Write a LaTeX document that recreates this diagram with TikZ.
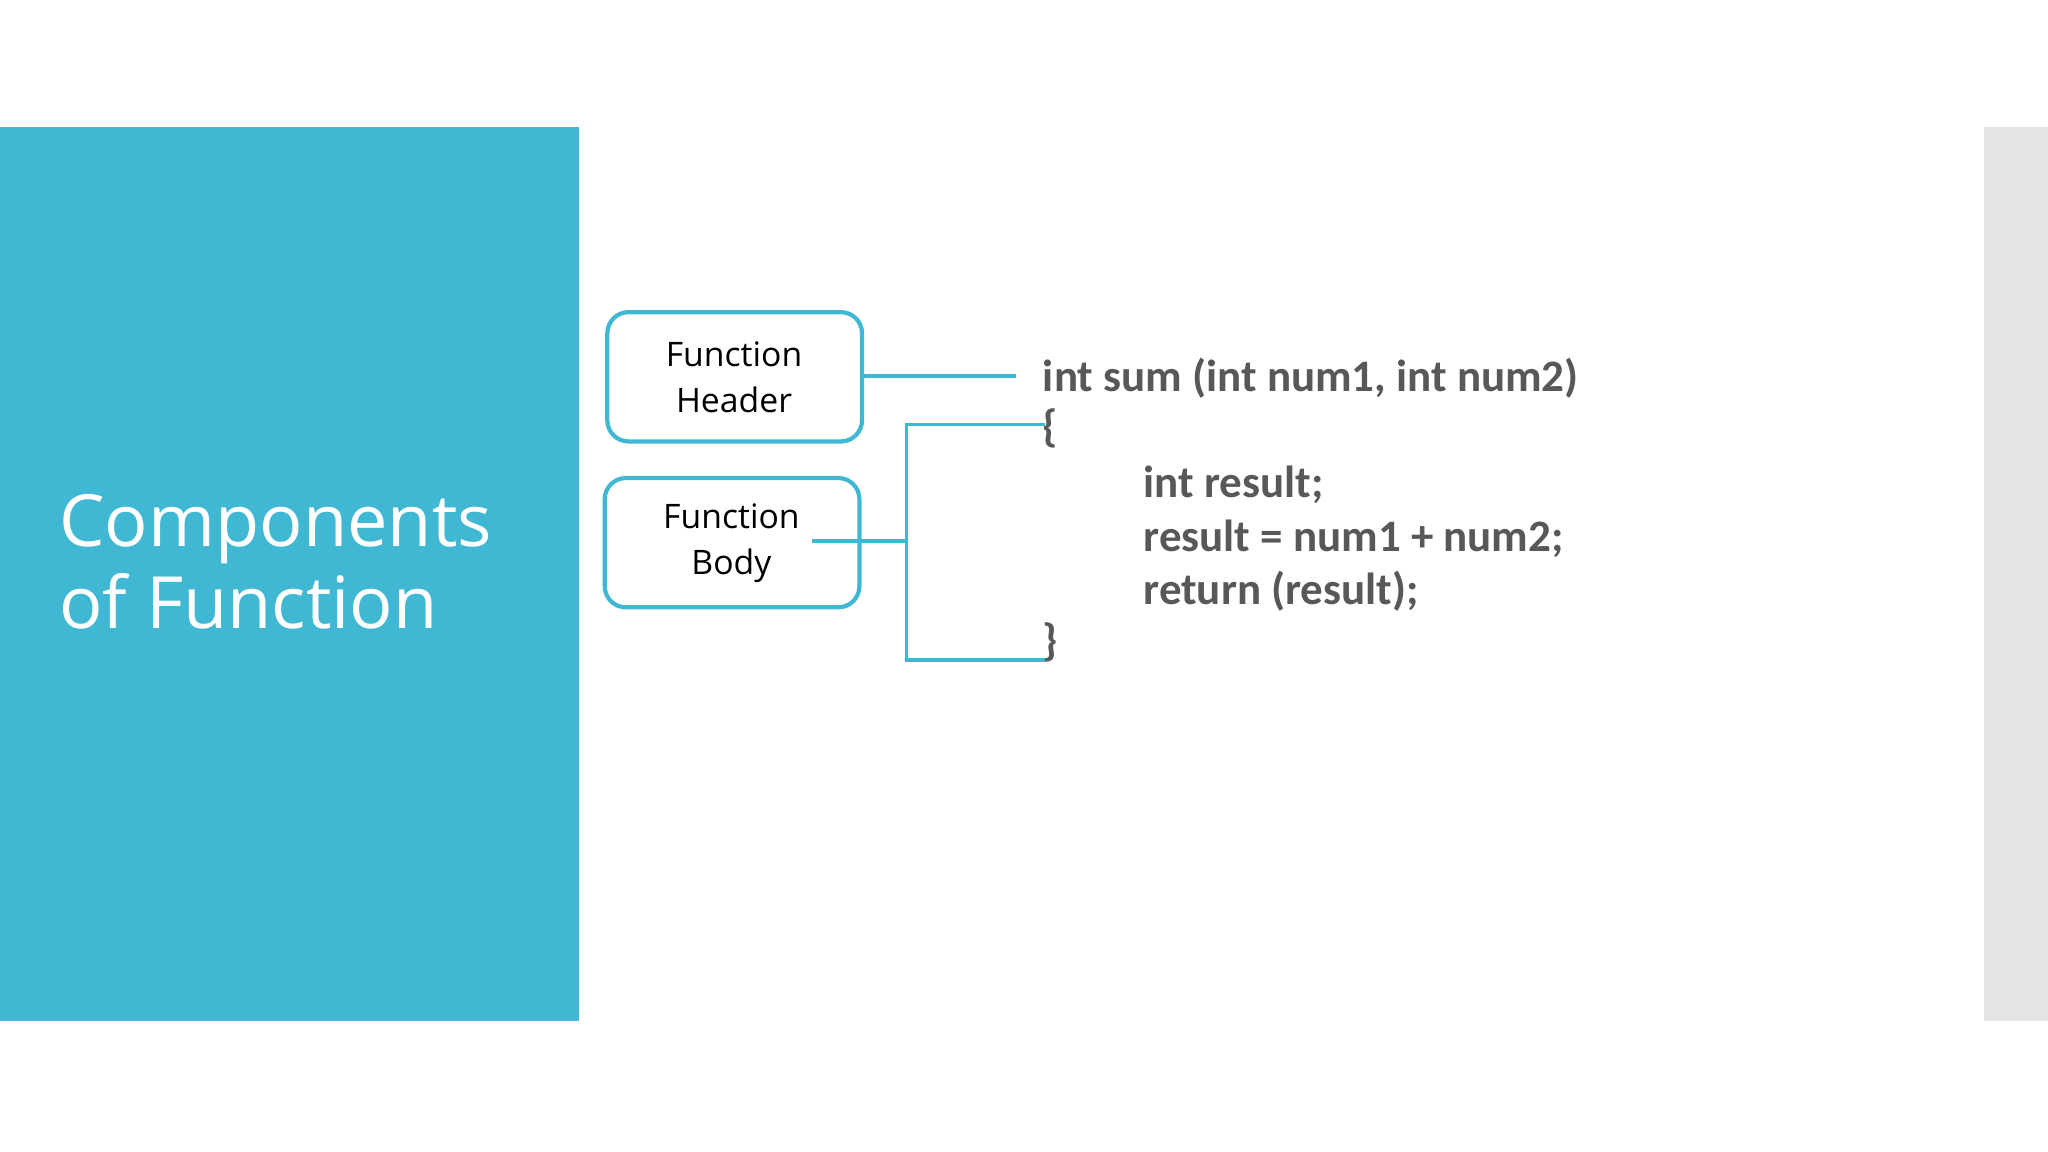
\documentclass[tikz,border=0pt]{standalone}
\usepackage{fontspec}
\setmainfont{Open Sans}
\newfontfamily\codefont{Carlito}
\definecolor{teal1}{HTML}{41B8D3}
\definecolor{side}{HTML}{E5E5E7}
\definecolor{code}{HTML}{58585A}
\begin{document}
\begin{tikzpicture}[x=0.013061cm,y=-0.013061cm,
  box/.style={draw=teal1,line width=1.2pt,rounded corners=6pt,minimum width=195\pgflinewidth,inner sep=0pt,align=center,font=\fontsize{9.6}{13}\selectfont},
  conn/.style={draw=teal1,line width=1.1pt},
  codetxt/.style={anchor=base west,inner sep=0pt,text=code,font=\codefont\bfseries\fontsize{12.8}{15}\selectfont}]
\useasboundingbox (0,0) rectangle (1568,882);
\fill[teal1] (0,97) rectangle (443,782);
\fill[side] (1519,97) rectangle (1568,782);
\node[anchor=north west,inner sep=0pt,text=white,align=left,font=\fontsize{20.5}{23.3}\selectfont] (title) at (45,378) {Components\\of Function};
\draw[box] (465,239) rectangle (660,338);
\node[box,draw=none] (hdr) at (562,289) {Function\\Header};
\draw[box] (463,366) rectangle (658,465);
\node[box,draw=none] (body) at (560,416) {Function\\Body};
\coordinate (hr) at (660,288);
\coordinate (he) at (778,288);
\coordinate (bl) at (622,414);
\coordinate (bj) at (694,414);
\coordinate (bt) at (694,325);
\coordinate (bb) at (694,505);
\coordinate (tt) at (800,325);
\coordinate (te) at (800,505);
\draw[conn] (hr) -- (he);
\draw[conn] (bl) -- (bj);
\draw[conn] (tt) -- (bt) -- (bb) -- (te);
\node[codetxt] (c1) at (798,300) {int sum (int num1, int num2)};
\node[codetxt] (c2) at (798,338) {\{};
\node[codetxt] (c3) at (875,381) {int result;};
\node[codetxt] (c4) at (875,422) {result = num1 + num2;};
\node[codetxt] (c5) at (875,463) {return (result);};
\node[codetxt] (c6) at (798,502) {\}};
\end{tikzpicture}
\end{document}
